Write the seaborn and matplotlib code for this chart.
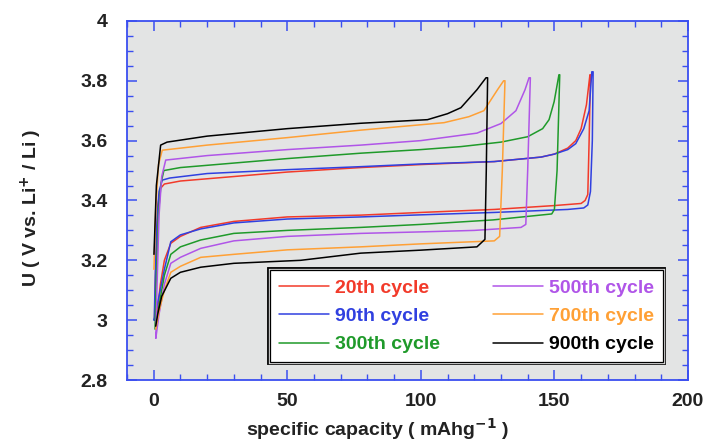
import matplotlib
matplotlib.use('Agg')
import matplotlib.pyplot as plt
import matplotlib.patheffects as pe
from matplotlib.ticker import MultipleLocator, FuncFormatter
import pandas as pd
import seaborn as sns

# Curvas de carga + descarga (capacidade em mAh/g, tensão em V)
cap_20 = [0.3, 0.8, 1.5, 2.5, 4, 10, 30, 50, 77.5, 100, 127.5, 145, 150, 155, 158, 160, 162, 163.3,
          163.5, 163, 162.5, 161.5, 160, 150, 127.5, 100, 77.5, 50, 30, 17.6, 10, 6.4, 4, 2.5, 1.5, 0.8]
u_20 = [3.0, 3.2, 3.38, 3.44, 3.455, 3.465, 3.48, 3.495, 3.51, 3.52, 3.53, 3.545, 3.555, 3.575, 3.60, 3.64, 3.72, 3.82,
        3.82, 3.6, 3.42, 3.40, 3.39, 3.383, 3.37, 3.36, 3.351, 3.345, 3.33, 3.31, 3.28, 3.257, 3.2, 3.12, 3.04, 2.98]

cap_90 = [0.2, 0.6, 1.2, 2.0, 3.2, 6, 20, 50, 77.5, 100, 127.5, 145, 150, 155, 158, 161, 163, 164,
          164.5, 164.2, 163.5, 162.5, 161, 155, 127.5, 100, 77.5, 50, 30, 17.6, 10, 6.4, 4, 2, 0.8, 0.2]
u_90 = [3.0, 3.15, 3.33, 3.43, 3.468, 3.475, 3.49, 3.503, 3.513, 3.522, 3.53, 3.545, 3.555, 3.57, 3.59, 3.64, 3.70, 3.83,
        3.83, 3.6, 3.43, 3.385, 3.375, 3.37, 3.36, 3.352, 3.345, 3.338, 3.325, 3.305, 3.285, 3.262, 3.17, 3.08, 3.03, 3.0]

cap_300 = [0.5, 1.0, 1.8, 2.8, 3.8, 10, 30, 50, 77.5, 100, 115, 130, 140, 145.6, 148, 149.9, 151.7,
           152, 151, 150, 149, 127, 100, 77.5, 50, 30, 17.6, 10, 6.4, 4, 2, 0.8]
u_300 = [2.97, 3.15, 3.36, 3.46, 3.50, 3.51, 3.525, 3.54, 3.558, 3.57, 3.58, 3.595, 3.613, 3.64, 3.67, 3.73, 3.82,
         3.82, 3.5, 3.37, 3.355, 3.335, 3.32, 3.31, 3.30, 3.29, 3.268, 3.245, 3.22, 3.15, 3.05, 2.97]

cap_500 = [0.8, 1.2, 2.0, 3.0, 4.5, 20, 50, 77.5, 100, 121, 130, 135.6, 139, 140.5,
           141, 140, 139.3, 137.5, 120, 100, 77.5, 50, 30, 17.6, 10, 6.4, 4, 2, 0.8]
u_500 = [2.94, 3.1, 3.35, 3.48, 3.535, 3.55, 3.57, 3.585, 3.60, 3.625, 3.657, 3.70, 3.77, 3.81,
         3.81, 3.5, 3.32, 3.31, 3.30, 3.295, 3.29, 3.28, 3.265, 3.24, 3.21, 3.19, 3.12, 3.02, 2.94]

cap_700 = [0.1, 0.8, 1.8, 3.2, 20, 50, 77.5, 108.7, 118, 123.6, 128.7, 131,
           131.5, 130.5, 129.5, 127.5, 100, 77.5, 50, 30, 17.6, 10, 6.4, 4, 2, 0.8]
u_700 = [3.17, 3.38, 3.52, 3.568, 3.585, 3.61, 3.635, 3.66, 3.68, 3.70, 3.77, 3.80,
         3.80, 3.5, 3.28, 3.265, 3.255, 3.245, 3.235, 3.22, 3.21, 3.18, 3.16, 3.10, 3.03, 2.97]

cap_900 = [0.1, 1.0, 2.6, 5, 20, 50, 77.5, 102.5, 110, 115, 121, 124.4,
           125, 124.5, 124, 121, 100, 77.5, 55, 30, 17.6, 10, 6.4, 3, 1.5, 0.75]
u_900 = [3.22, 3.45, 3.585, 3.595, 3.615, 3.64, 3.658, 3.67, 3.69, 3.71, 3.77, 3.81,
         3.81, 3.5, 3.27, 3.245, 3.234, 3.224, 3.20, 3.19, 3.177, 3.16, 3.14, 3.08, 3.02, 2.98]

ciclos = ['20th cycle', '90th cycle', '300th cycle', '500th cycle', '700th cycle', '900th cycle']
cores = ['#f23a2a', '#3040e0', '#1f9a2a', '#b055e8', '#ffa035', '#000000']
caps = [cap_20, cap_90, cap_300, cap_500, cap_700, cap_900]
tensoes = [u_20, u_90, u_300, u_500, u_700, u_900]

linhas = []
for nome, c, u in zip(ciclos, caps, tensoes):
    for i, (ci, ui) in enumerate(zip(c, u)):
        linhas.append({'ciclo': nome, 'ordem': i, 'cap': ci, 'U': ui})
df = pd.DataFrame(linhas)

sns.set_style('ticks')
plt.rcParams['font.family'] = ['Liberation Sans', 'DejaVu Sans']

fig = plt.figure(figsize=(7.11, 4.45), dpi=100)
ax = fig.add_axes([0.1786, 0.146, 0.789, 0.807])
ax.set_facecolor('#e3e4e4')

sns.lineplot(data=df, x='cap', y='U', hue='ciclo', hue_order=ciclos,
             palette=dict(zip(ciclos, cores)), sort=False, estimator=None,
             linewidth=1.1, ax=ax)

ax.set_xlim(-10, 200)
ax.set_ylim(2.8, 4.0)
ax.xaxis.set_major_locator(MultipleLocator(50))
ax.xaxis.set_minor_locator(MultipleLocator(10))
ax.yaxis.set_major_locator(MultipleLocator(0.2))
ax.yaxis.set_minor_locator(MultipleLocator(0.05))
ax.yaxis.set_major_formatter(FuncFormatter(lambda v, p: f'{v:g}'))

azul = '#3a4ef0'
for s in ax.spines.values():
    s.set_color(azul)
    s.set_linewidth(1.3)
ax.tick_params(which='both', direction='in', top=True, right=True, color=azul)
ax.tick_params(which='major', length=7, width=1.1, labelsize=14, labelcolor='#222222')
ax.tick_params(which='minor', length=4, width=1.0)
ax.tick_params(axis='y', which='major', pad=14)
ax.tick_params(axis='x', which='major', pad=9)
for t in ax.get_xticklabels() + ax.get_yticklabels():
    t.set_fontweight('bold')

ax.set_xlabel('specific capacity ( mAhg$^{\\mathbf{-1}}$ )', fontsize=14, fontweight='bold', color='#222222')
ax.set_ylabel('U ( V vs. Li$^{\\mathbf{+}}$ / Li )', fontsize=14, fontweight='bold', color='#222222')
ax.xaxis.set_label_coords(0.446, -0.1)
ax.yaxis.set_label_coords(-0.148, 0.48)

leg = ax.legend(loc='lower left', bbox_to_anchor=(0.255, 0.05, 0.70, 0.27), mode='expand',
                borderaxespad=0, ncol=2, handlelength=2.6, handletextpad=0.3, labelspacing=0.55,
                borderpad=0.45, columnspacing=1.5, frameon=True, fancybox=False,
                prop={'weight': 'bold', 'size': 14})
frame = leg.get_frame()
frame.set_facecolor('white')
frame.set_edgecolor('black')
frame.set_linewidth(0.9)
frame.set_alpha(1)
frame.set_path_effects([pe.Stroke(linewidth=4.2, foreground='black'),
                        pe.Stroke(linewidth=2.4, foreground='#d8d8d8'), pe.Normal()])
for txt, cor in zip(leg.get_texts(), cores):
    txt.set_color(cor)

fig.savefig('out.png', dpi=100, facecolor='white')
